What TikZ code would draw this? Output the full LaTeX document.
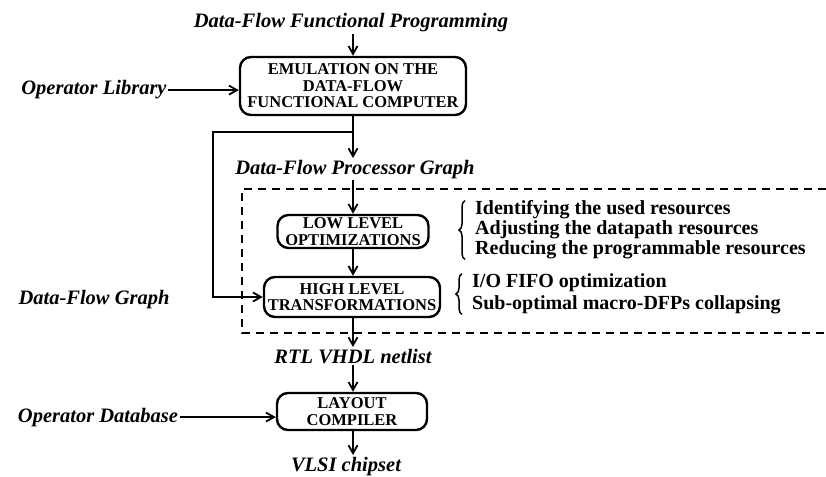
\documentclass[tikz,border=0pt]{standalone}
\usepackage{fontspec}
\setmainfont{Liberation Serif}
\usetikzlibrary{arrows.meta,decorations.pathreplacing}

\begin{document}
\begin{tikzpicture}[x=1pt,y=-1pt,
  proc/.style={draw, line width=2.4pt, rounded corners=11pt, align=center, inner sep=0pt,
    font=\fontsize{16.5}{16.5}\selectfont\bfseries},
  lbl/.style={font=\fontsize{20.5}{22}\selectfont\bfseries\itshape, inner sep=1.5pt},
  link/.style={line width=1.8pt},
  arr/.style={link, -{Straight Barb[length=8pt,width=9pt,line width=1.8pt]}},
  note/.style={font=\fontsize{20}{20}\selectfont\bfseries, align=left, inner sep=0pt, anchor=west},
  bracket/.style={line width=1.5pt, decorate, decoration={brace, amplitude=6pt}},
  ]
\useasboundingbox (0,0) rectangle (826,476);

% labels (data items)
\node[lbl, anchor=base] (title) at (351,28) {Data-Flow Functional Programming};
\node[lbl, anchor=base] (oplib) at (94,95) {Operator Library};
\node[lbl, anchor=base] (dfpg)  at (355,174) {Data-Flow Processor Graph};
\node[lbl, anchor=base] (dfg)   at (94,304) {Data-Flow Graph};
\node[lbl, anchor=base] (rtl)   at (353,363) {RTL VHDL netlist};
\node[lbl, anchor=base] (opdb)  at (98,422) {Operator Database};
\node[lbl, anchor=base] (vlsi)  at (346,471) {VLSI chipset};

% processing steps
\node[proc, minimum width=226pt, minimum height=58pt] (emu) at (353,86)
  {EMULATION ON THE\\DATA-FLOW\\FUNCTIONAL COMPUTER};
\node[proc, minimum width=151pt, minimum height=33pt] (low) at (353,231.5)
  {LOW LEVEL\\OPTIMIZATIONS};
\node[proc, minimum width=176pt, minimum height=40pt] (high) at (352,297)
  {HIGH LEVEL\\TRANSFORMATIONS};
\node[proc, minimum width=150pt, minimum height=37pt] (lay) at (352,411.5)
  {LAYOUT\\COMPILER};

% optimisation details
\node[note] (n1) at (475,230)
  {Identifying the used resources\\Adjusting the datapath resources\\Reducing the programmable resources};
\node[note, font=\fontsize{20}{22}\selectfont\bfseries] (n2) at (472,294)
  {I/O FIFO optimization\\Sub-optimal macro-DFPs collapsing};
\draw[bracket] ([xshift=-10pt]n1.south west) -- ([xshift=-10pt]n1.north west);
\draw[bracket] ([xshift=-10pt]n2.south west) -- ([xshift=-10pt]n2.north west);

% dashed frame around the optimisation steps
\draw[link, dash pattern=on 8pt off 6pt] (826,189) -- (242,189) -- (242,333) -- (826,333);

% flow
\coordinate (fb) at (213,132);
\draw[arr] (emu.north |- title.south) -- (emu.north);
\draw[arr] (oplib.east) -- (emu.west |- oplib.east);
\draw[arr] (emu.south) -- (dfpg.north -| emu.south);
\draw[arr] (dfpg.south -| low.north) -- (low.north);
\draw[arr] (low.south) -- (low.south |- high.north);
\draw[arr] (emu.south |- fb) -- (fb) |- (high.west);
\draw[arr] (low.south |- high.south) -- (rtl.north -| low.south);
\draw[arr] (rtl.south -| low.south) -- (low.south |- lay.north);
\draw[arr] (opdb.east) -- (lay.west |- opdb.east);
\draw[arr] (low.south |- lay.south) -- (vlsi.north -| low.south);
\end{tikzpicture}
\end{document}
